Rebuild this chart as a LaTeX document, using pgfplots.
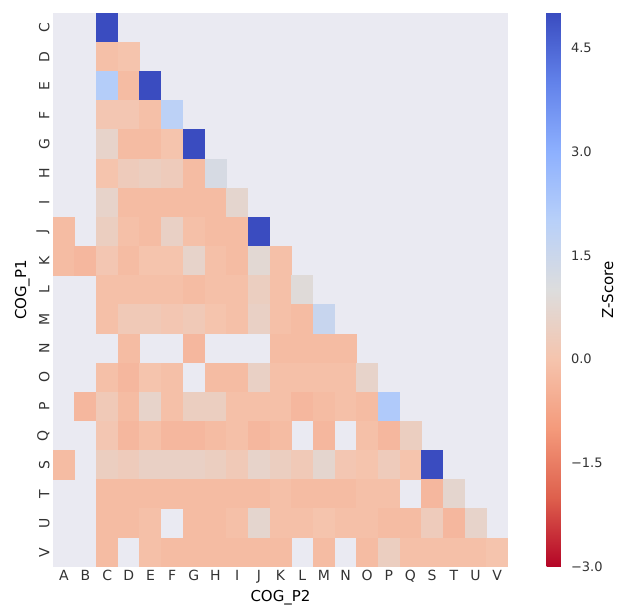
\documentclass[border=0pt]{standalone}
\usepackage{fontspec}
\setmainfont{DejaVu Sans}
\usepackage{pgfplots}
\usepackage{pgfplotstable}
\pgfplotsset{compat=1.18}
\definecolor{bgc}{RGB}{234,234,242}
\pgfdeclareplotmark{cell}{\pgfpathrectangle{\pgfpoint{-11pt}{-14.8pt}}{\pgfpoint{22pt}{29.6pt}}\pgfusepathqfill}
\pgfplotsset{colormap={coolwarmr}{rgb255=(180,4,38) rgb255=(222,96,77) rgb255=(244,154,123) rgb255=(245,196,173) rgb255=(221,221,221) rgb255=(184,208,249) rgb255=(141,176,254) rgb255=(98,130,234) rgb255=(58,76,192)}}
\pgfplotstableread{
x y z
2 0 5.0
2 1 -0.1
3 1 0.0
2 2 2.1
3 2 -0.2
4 2 5.0
2 3 0.1
3 3 0.1
4 3 -0.1
5 3 1.9
2 4 0.6
3 4 -0.2
4 4 -0.2
5 4 0.0
6 4 5.0
2 5 0.0
3 5 0.3
4 5 0.4
5 5 0.3
6 5 -0.2
7 5 1.2
2 6 0.6
3 6 -0.2
4 6 -0.2
5 6 -0.2
6 6 -0.2
7 6 -0.2
8 6 0.7
0 7 -0.2
2 7 0.4
3 7 -0.1
4 7 -0.2
5 7 0.5
6 7 -0.1
7 7 -0.2
8 7 -0.2
9 7 5.0
0 8 -0.2
1 8 -0.3
2 8 0.1
3 8 -0.2
4 8 0.0
5 8 0.0
6 8 0.6
7 8 -0.1
8 8 -0.2
9 8 0.8
10 8 -0.1
2 9 -0.1
3 9 -0.1
4 9 -0.1
5 9 -0.1
6 9 -0.2
7 9 -0.1
8 9 -0.1
9 9 0.4
10 9 -0.1
11 9 0.9
2 10 -0.1
3 10 0.2
4 10 0.2
5 10 0.1
6 10 0.2
7 10 0.0
8 10 -0.1
9 10 0.5
10 10 -0.1
11 10 -0.2
12 10 1.6
3 11 -0.2
6 11 -0.3
10 11 -0.2
11 11 -0.2
12 11 -0.2
13 11 -0.2
2 12 -0.1
3 12 -0.3
4 12 0.0
5 12 -0.1
7 12 -0.2
8 12 -0.2
9 12 0.5
10 12 -0.1
11 12 -0.1
12 12 -0.1
13 12 -0.1
14 12 0.6
1 13 -0.3
2 13 0.2
3 13 -0.2
4 13 0.6
5 13 -0.1
6 13 0.4
7 13 0.4
8 13 -0.1
9 13 -0.1
10 13 -0.1
11 13 -0.3
12 13 -0.2
13 13 -0.1
14 13 -0.2
15 13 2.2
2 14 0.1
3 14 -0.3
4 14 -0.1
5 14 -0.3
6 14 -0.3
7 14 -0.2
8 14 -0.1
9 14 -0.3
10 14 -0.2
12 14 -0.3
14 14 -0.1
15 14 -0.3
16 14 0.4
0 15 -0.2
2 15 0.4
3 15 0.3
4 15 0.5
5 15 0.5
6 15 0.5
7 15 0.4
8 15 0.2
9 15 0.6
10 15 0.4
11 15 0.2
12 15 0.7
13 15 0.1
14 15 0.0
15 15 0.3
16 15 0.0
17 15 5.0
2 16 -0.2
3 16 -0.2
4 16 -0.2
5 16 -0.2
6 16 -0.2
7 16 -0.2
8 16 -0.2
9 16 -0.2
10 16 -0.1
11 16 -0.2
12 16 -0.2
13 16 -0.2
14 16 -0.1
15 16 -0.1
17 16 -0.3
18 16 0.7
2 17 -0.2
3 17 -0.2
4 17 -0.1
6 17 -0.2
7 17 -0.2
8 17 -0.1
9 17 0.7
10 17 -0.1
11 17 -0.1
12 17 0.0
13 17 -0.1
14 17 -0.1
15 17 -0.2
16 17 -0.2
17 17 0.3
18 17 -0.3
19 17 0.6
2 18 -0.2
4 18 -0.1
5 18 -0.2
6 18 -0.2
7 18 -0.2
8 18 -0.2
9 18 -0.2
10 18 -0.2
12 18 -0.2
14 18 -0.2
15 18 0.4
16 18 -0.1
17 18 -0.1
18 18 -0.1
19 18 -0.1
20 18 0.0
}\cells
\begin{document}
\begin{tikzpicture}
\begin{axis}[
  name=main,
  scale only axis,
  width=455pt, height=554pt,
  xmin=-0.5, xmax=20.5, ymin=-0.5, ymax=18.5,
  y dir=reverse,
  enlargelimits=false,
  axis background/.style={fill=bgc},
  axis line style={draw=none},
  major tick length=0pt,
  xtick={0,...,20},
  xticklabels={A,B,C,D,E,F,G,H,I,J,K,L,M,N,O,P,Q,S,T,U,V},
  ytick={0,...,18},
  yticklabels={C,D,E,F,G,H,I,J,K,L,M,N,O,P,Q,S,T,U,V},
  tick label style={font=\fontsize{14}{16}\selectfont, text=black!80},
  yticklabel style={rotate=90, anchor=south},
  xlabel={COG\_P2}, ylabel={COG\_P1},
  label style={font=\fontsize{15}{17}\selectfont},
  colormap name=coolwarmr,
  point meta min=-3, point meta max=5,
  colorbar,
  colorbar style={
    at={(parent axis.north east)}, anchor=north west, xshift=30pt,
    width=24pt,
    axis line style={draw=none},
    major tick length=0pt,
    ytick={-3,-1.5,0,1.5,3,4.5},
    yticklabels={−3.0,−1.5,0.0,1.5,3.0,4.5},
    yticklabel style={font=\fontsize{13}{15}\selectfont, text=black!80, xshift=-3pt},
    ylabel={Z-Score},
    every axis y label/.style={at={(axis description cs:1,0.5)}, xshift=37pt, rotate=90, anchor=center, font=\fontsize{15}{17}\selectfont},
  },
]
\addplot[scatter, only marks, mark=cell, scatter src=explicit,
  scatter/use mapped color={draw=none, fill=mapped color}]
  table[x=x, y=y, meta=z]{\cells};
\end{axis}
\pgfresetboundingbox
\path ([shift={(-53pt,13pt)}]main.north west) rectangle ([shift={(568pt,-602pt)}]main.north west);
\end{tikzpicture}
\end{document}
